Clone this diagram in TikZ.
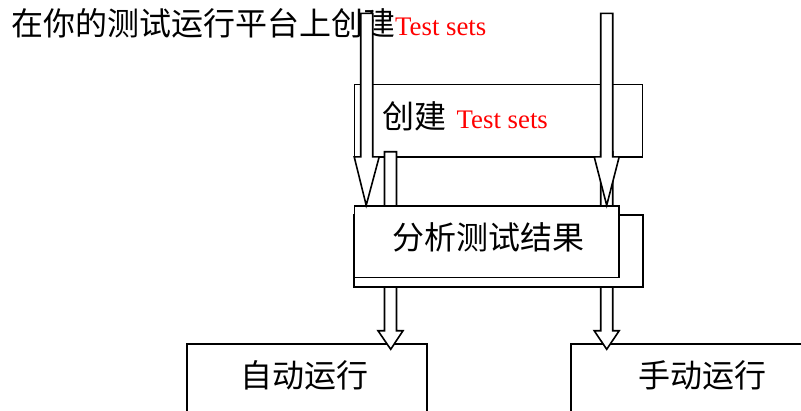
\documentclass[tikz,border=0pt]{standalone}
\usepackage{fontspec}
\setmainfont{Liberation Serif}
\newfontfamily\cjk{Noto Sans CJK SC}
\usetikzlibrary{calc}
\newcommand\zhfont{\cjk\fontsize{32}{36}\selectfont}
\newcommand\enfont{\rmfamily\fontsize{26.8}{30}\selectfont\color{red}}
\newcommand\blockarrow[3]{% #1 start coordinate, #2 tip coordinate, #3 head length
  \draw[barrow] let \p1=(#1), \p2=(#2) in
    (\x1-6pt,\y1) -- (\x1+6pt,\y1) -- (\x1+6pt,\y2+#3) -- (\x1+12.5pt,\y2+#3)
    -- (\x2,\y2) -- (\x1-12.5pt,\y2+#3) -- (\x1-6pt,\y2+#3) -- cycle;}
\tikzset{
  box/.style={draw, line width=1.6pt, fill=white, inner sep=0pt, rectangle},
  lbl/.style={inner sep=0pt, anchor=base west},
  clbl/.style={inner sep=0pt, anchor=base},
  barrow/.style={draw, line width=1.6pt, fill=white, line join=miter},
}
\begin{document}
\begin{tikzpicture}[x=1pt,y=-1pt]
\useasboundingbox (0,0) rectangle (801,410);
\clip (0,0) rectangle (801,410);
\fill[white] (0,0) rectangle (801,410);
% title text
\node[lbl] (title) at (11,35.5) {\zhfont 在你的测试运行平台上创建{\enfont Test sets}};
% bottom boxes
\node[box, minimum width=240pt, minimum height=86pt] (auto) at (307,387) {};
\node[box, minimum width=259pt, minimum height=86pt] (manual) at (700.5,387) {};
\node[clbl] (autot) at (304,387.5) {\zhfont 自动运行};
\node[clbl] (manualt) at (702,387.5) {\zhfont 手动运行};
% box 1
\node[box, minimum width=288pt, minimum height=72.4pt] (create) at (498.3,120.5) {};
\node[lbl] (createzh) at (382.5,128.5) {\zhfont 创建};
\node[lbl] (createen) at (456.5,128) {\enfont Test sets};
% small arrows
\coordinate (s1top) at (390.5,151.7);
\coordinate (s1tip) at (390.7,349.3);
\coordinate (s2top) at (606.7,151.7);
\coordinate (s2tip) at (606.7,349.3);
\blockarrow{s1top}{s1tip}{18.6pt}
\blockarrow{s2top}{s2tip}{18.6pt}
% box 2
\node[box, minimum width=289pt, minimum height=72pt] (resback) at (498.5,251) {};
\node[box, minimum width=264.4pt, minimum height=71.6pt] (res) at (486.5,241.5) {};
\node[clbl] (rest) at (488,249) {\zhfont 分析测试结果};
% big arrows
\coordinate (b1top) at (366.7,13.3);
\coordinate (b1tip) at (366.2,205.3);
\coordinate (b2top) at (606.7,13.3);
\coordinate (b2tip) at (606.7,205.3);
\blockarrow{b1top}{b1tip}{48.5pt}
\blockarrow{b2top}{b2tip}{48.5pt}
\end{tikzpicture}
\end{document}
